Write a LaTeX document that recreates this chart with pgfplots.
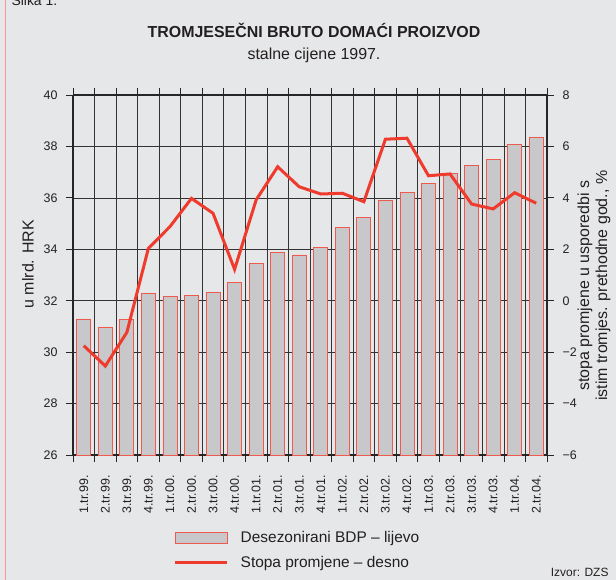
\documentclass[border=0pt]{standalone}
\usepackage{fontspec}
\setmainfont{Liberation Sans}
\usepackage{pgfplots}
\pgfplotsset{compat=1.18}
\definecolor{bg}{HTML}{E6E7E8}
\definecolor{barfill}{HTML}{C8C8CA}
\definecolor{barred}{HTML}{EF5A4F}
\definecolor{linered}{HTML}{EE3B2E}
\definecolor{txt}{HTML}{231F20}

\begin{document}
\begin{tikzpicture}
\useasboundingbox (-73bp,-125bp) rectangle (543bp,455bp);
\fill[bg] (-73bp,-125bp) rectangle (543bp,455bp);
\draw[red!40, line width=1.4bp] (-67.5bp,-125bp) -- (-67.5bp,455bp);
\node[anchor=base west, font=\fontsize{14}{16}\selectfont, text=txt] at (-65bp,449bp) {Slika 1.};
\node[font=\fontsize{16}{19}\selectfont\bfseries, text=txt] at (241bp,425bp) {TROMJESEČNI BRUTO DOMAĆI PROIZVOD};
\node[font=\fontsize{16}{19}\selectfont, text=txt] at (241bp,400bp) {stalne cijene 1997.};
\node[anchor=east, font=\fontsize{12}{14}\selectfont, text=txt] at (539bp,-117bp) {Izvor: DZS};

% left axis: GDP bars
\begin{axis}[
    scale only axis, width=474bp, height=360bp,
    at={(0,0)}, anchor=south west,
    xmin=-0.5, xmax=21.5, ymin=26, ymax=40,
    axis y line*=left,
    ytick={26,28,...,40},
    yticklabels={26,28,30,32,34,36,38,40},
    yticklabel shift=5bp,
    xtick={-0.5,0.5,...,21.5}, xticklabels={},
    xmajorgrids, ymajorgrids,
    extra x ticks={0,1,...,21},
    extra x tick labels={1.tr.99.,2.tr.99.,3.tr.99.,4.tr.99.,1.tr.00.,2.tr.00.,3.tr.00.,4.tr.00.,1.tr.01.,2.tr.01.,3.tr.01.,4.tr.01.,1.tr.02.,2.tr.02.,3.tr.02.,4.tr.02.,1.tr.03.,2.tr.03.,3.tr.03.,4.tr.03.,1.tr.04.,2.tr.04.},
    extra x tick style={grid=none, major tick length=0pt},
    x tick label style={rotate=90, anchor=east},
    xticklabel shift=17bp,
    tick label style={font=\fontsize{12.5}{14}\selectfont, text=txt},
    tick align=outside, major tick length=7bp,
    tick style={black!85, line width=0.8bp},
    axis line style={black!85, line width=1.3bp},
    major grid style={black!80, line width=0.7bp},
    every axis y label/.style={at={(axis description cs:-0.095,0.53)}, rotate=90, anchor=center, font=\fontsize{16}{19}\selectfont, text=txt},
    ylabel={u mlrd. HRK},
]
\addplot[ybar, bar width=0.65, bar shift=0pt, fill=barfill, draw=barred, line width=0.8bp] coordinates {
    (0,31.29) (1,30.98) (2,31.26) (3,32.30) (4,32.17) (5,32.19) (6,32.34) (7,32.70)
    (8,33.44) (9,33.88) (10,33.78) (11,34.06) (12,34.84) (13,35.23) (14,35.90) (15,36.21)
    (16,36.55) (17,36.94) (18,37.25) (19,37.51) (20,38.07) (21,38.37)
};
\end{axis}

% right axis: growth rate
\begin{axis}[
    scale only axis, width=474bp, height=360bp,
    at={(0,0)}, anchor=south west,
    xmin=-0.5, xmax=21.5, ymin=-6, ymax=8,
    axis x line=none, axis y line*=right,
    ytick={-6,-4,...,8},
    yticklabels={−6,−4,−2,0,2,4,6,8},
    yticklabel shift=5bp,
    tick label style={font=\fontsize{12.5}{14}\selectfont, text=txt},
    tick align=outside, major tick length=7bp,
    tick style={black!85, line width=0.8bp},
    axis line style={black!85, line width=1.6bp},
    every axis y label/.style={at={(axis description cs:1.099,0.47)}, rotate=90, anchor=center, align=center, font=\fontsize{16}{18}\selectfont, text=txt},
    ylabel={stopa promjene u usporedbi s\\istim tromjes. prethodne god., \%},
    legend style={at={(axis description cs:0.211,-0.206)}, anchor=north west, draw=none, fill=none,
        font=\fontsize{15.5}{18}\selectfont, text=txt, inner sep=0pt, row sep=8bp, column sep=10bp,
        nodes={inner sep=2bp}},
    legend cell align=left,
]
\addlegendimage{legend image code/.code={\draw[fill=barfill, draw=barred, line width=0.8bp] (0bp,-5.5bp) rectangle (52bp,5.5bp);}}
\addlegendentry{Desezonirani BDP – lijevo}
\addplot[linered, line width=3bp, no markers,
    legend image code/.code={\draw[linered, line width=3.5bp] (0bp,0bp) -- (52bp,0bp);}] coordinates {
    (0,-1.75) (1,-2.54) (2,-1.23) (3,2.04) (4,2.88) (5,3.98) (6,3.40) (7,1.22)
    (8,3.92) (9,5.21) (10,4.43) (11,4.15) (12,4.18) (13,3.85) (14,6.28) (15,6.32)
    (16,4.86) (17,4.93) (18,3.76) (19,3.57) (20,4.20) (21,3.79)
};
\addlegendentry{Stopa promjene – desno}
\end{axis}
\end{tikzpicture}
\end{document}
